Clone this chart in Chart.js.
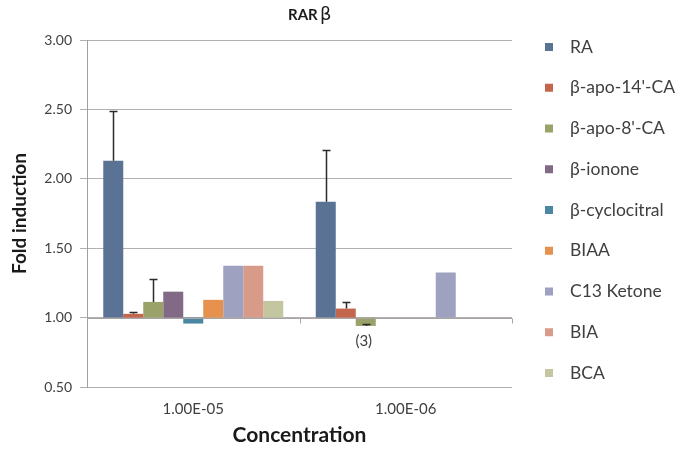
<!DOCTYPE html>
<html>
<head>
<meta charset="utf-8">
<script src="https://cdn.jsdelivr.net/npm/chart.js@4"></script>
<style>
  html, body { margin: 0; padding: 0; background: #fff; }
  #wrap { width: 684px; height: 451px; }
</style>
</head>
<body>
<div id="wrap"><canvas id="myChart" width="684" height="451"></canvas></div>
<script>
/* globals Chart:false */

// data
const categories = ['1.00E-05', '1.00E-06']
const seriesNames = ['RA', 'β-apo-14\'-CA', 'β-apo-8\'-CA', 'β-ionone', 'β-cyclocitral', 'BIAA', 'C13 Ketone', 'BIA', 'BCA']
const seriesColors = ['#5a7395', '#c4654d', '#9aa169', '#826a87', '#4b87a2', '#e6914e', '#9ea2c0', '#d99b89', '#c3c69f']

const raVals = [2.13, 1.835]
const apo14Vals = [1.027, 1.065]
const apo8Vals = [1.113, 0.94]
const iononeVals = [1.187, null]
const cyclocitralVals = [0.957, null]
const biaaVals = [1.128, null]
const c13Vals = [1.373, 1.325]
const biaVals = [1.373, null]
const bcaVals = [1.12, null]

// plus-direction error bars
const raErr = [0.36, 0.37]
const apo14Err = [0.014, 0.045]
const apo8Err = [0.165, 0.016]

// note under the bar (β-apo-8'-CA, 1.00E-06)
const apo8Notes = [null, '(3)']

const yTicks = [0.5, 1.0, 1.5, 2.0, 2.5, 3.0]
const baseline = 1

const allVals = [raVals, apo14Vals, apo8Vals, iononeVals, cyclocitralVals, biaaVals, c13Vals, biaVals, bcaVals]
const allErr = [raErr, apo14Err, apo8Err, null, null, null, null, null, null]
const allNotes = [null, null, apo8Notes, null, null, null, null, null, null]

const FONT = 'Lato, "Open Sans", sans-serif'

const datasets = seriesNames.map((name, i) => ({
  label: name,
  data: allVals[i].map(v => v === null ? null : [baseline, v]),
  backgroundColor: seriesColors[i],
  borderWidth: 0,
  barPercentage: 1,
  categoryPercentage: 0.847,
  errors: allErr[i],
  notes: allNotes[i]
}))

// axis line at y = 1 with category ticks
const baseAxisPlugin = {
  id: 'baseAxis',
  afterDatasetsDraw(chart) {
    const { ctx, chartArea, scales } = chart
    const y = Math.round(scales.y.getPixelForValue(baseline)) + 0.5
    ctx.save()
    ctx.strokeStyle = '#a8a4a4'
    ctx.lineWidth = 1
    ctx.beginPath()
    ctx.moveTo(chartArea.left, y)
    ctx.lineTo(chartArea.right, y)
    const w = (chartArea.right - chartArea.left) / categories.length
    for (let i = 1; i <= categories.length; i++) {
      const x = Math.round(chartArea.left + i * w) + 0.5
      ctx.moveTo(x, y)
      ctx.lineTo(x, y + 5)
    }
    ctx.stroke()
    ctx.restore()
  }
}

// error bars and notes
const errorBarPlugin = {
  id: 'errorBars',
  afterDatasetsDraw(chart) {
    const { ctx, scales } = chart
    ctx.save()
    chart.data.datasets.forEach((ds, di) => {
      const meta = chart.getDatasetMeta(di)
      ds.data.forEach((d, i) => {
        if (!d) return
        const el = meta.data[i]
        const v = d[1]
        if (ds.errors && ds.errors[i] != null) {
          const x = Math.round(el.x) + 0.5
          const y0 = scales.y.getPixelForValue(v)
          const y1 = Math.round(scales.y.getPixelForValue(v + ds.errors[i])) + 0.5
          ctx.strokeStyle = '#2b2b2b'
          ctx.lineWidth = 1.5
          ctx.beginPath()
          ctx.moveTo(x, y0)
          ctx.lineTo(x, y1)
          ctx.moveTo(x - 4, y1)
          ctx.lineTo(x + 4, y1)
          ctx.stroke()
        }
        if (ds.notes && ds.notes[i]) {
          ctx.fillStyle = '#404040'
          ctx.font = '15px ' + FONT
          ctx.textAlign = 'center'
          ctx.textBaseline = 'middle'
          ctx.fillText(ds.notes[i], el.x - 2, scales.y.getPixelForValue(v) + 15)
        }
      })
    })
    ctx.restore()
  }
}

// title and legend on the right
const sidePlugin = {
  id: 'side',
  afterDraw(chart) {
    const { ctx } = chart
    ctx.save()
    ctx.fillStyle = '#1a1a1a'
    ctx.textBaseline = 'alphabetic'
    ctx.textAlign = 'left'
    ctx.font = 'bold 15px Lato'
    ctx.fillText('RAR', 288, 20)
    ctx.font = '18px "DejaVu Sans"'
    ctx.fillText('β', 320, 20)

    ctx.textBaseline = 'middle'
    ctx.font = '17.5px ' + FONT
    chart.data.datasets.forEach((ds, i) => {
      const y = 47 + i * 40.75
      ctx.fillStyle = ds.backgroundColor
      ctx.fillRect(545, y - 4, 8, 8)
      ctx.fillStyle = '#404040'
      ctx.fillText(ds.label, 570, y)
    })
    ctx.restore()
  }
}

new Chart(document.getElementById('myChart'), {
  type: 'bar',
  data: {
    labels: categories,
    datasets: datasets
  },
  plugins: [baseAxisPlugin, errorBarPlugin, sidePlugin],
  options: {
    responsive: false,
    animation: false,
    layout: {
      padding: { left: 0, right: 172, top: 40, bottom: 0 }
    },
    plugins: {
      legend: { display: false },
      title: { display: false },
      tooltip: { enabled: false }
    },
    scales: {
      x: {
        grid: { display: false, drawTicks: false },
        border: { display: false },
        ticks: {
          color: '#404040',
          font: { family: FONT, size: 15 },
          padding: 13
        },
        title: {
          display: true,
          text: 'Concentration',
          color: '#1a1a1a',
          font: { family: FONT, size: 21, weight: 'bold' },
          padding: { top: 0, bottom: 3 }
        },
        afterFit(scale) { scale.height = 64 }
      },
      y: {
        min: 0.5,
        max: 3,
        afterBuildTicks(scale) { scale.ticks = yTicks.map(v => ({ value: v })) },
        ticks: {
          color: '#404040',
          font: { family: FONT, size: 14 },
          padding: 8,
          callback: v => Number(v).toFixed(2)
        },
        grid: { color: '#b4b0b0', tickLength: 7 },
        border: { display: true, color: '#a0a0a0' },
        title: {
          display: true,
          text: 'Fold induction',
          color: '#1a1a1a',
          font: { family: FONT, size: 19, weight: 'bold' },
          padding: { top: 8, bottom: 0 }
        },
        afterFit(scale) { scale.width = 87 }
      }
    }
  }
})
</script>
</body>
</html>
